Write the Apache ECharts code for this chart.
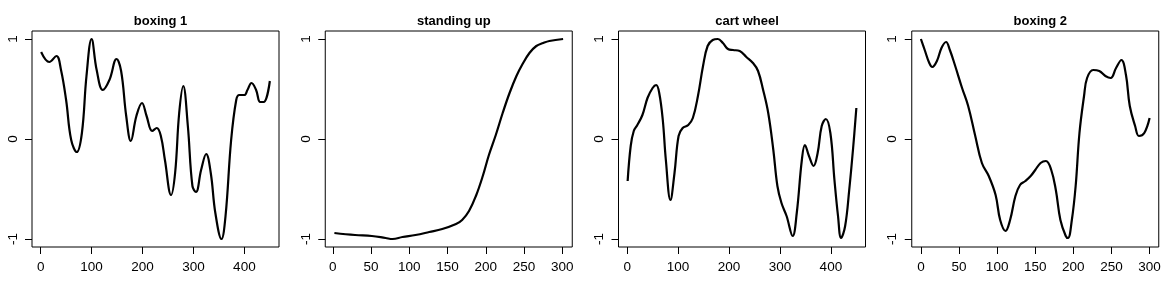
<!DOCTYPE html>
<html><head><meta charset="utf-8">
<script src="https://cdn.jsdelivr.net/npm/echarts@6/dist/echarts.min.js"></script>
<style>html,body{margin:0;padding:0;background:#fff}#c{width:1173px;height:287px}</style>
</head><body><div id="c"></div>
<script>
const titles = ['boxing 1', 'standing up', 'cart wheel', 'boxing 2'];

const boxing1X = [1, 17, 31, 40, 50, 60, 71, 81, 90, 100, 110, 122, 135, 149, 158, 168, 177, 188, 199, 208, 219, 228, 236, 244, 256, 264, 272, 280, 289, 298, 305, 315, 325, 334, 343, 355, 363, 374, 384, 390, 400, 406, 414, 423, 431, 438, 450];
const boxing1Y = [0.87, 0.77, 0.83, 0.69, 0.39, -0.01, -0.13, 0.06, 0.63, 1.0, 0.69, 0.49, 0.59, 0.80, 0.68, 0.23, -0.02, 0.23, 0.36, 0.23, 0.08, 0.11, 0.03, -0.21, -0.56, -0.34, 0.26, 0.53, 0.13, -0.47, -0.53, -0.31, -0.15, -0.34, -0.74, -1.0, -0.77, -0.01, 0.39, 0.44, 0.44, 0.49, 0.56, 0.49, 0.37, 0.37, 0.58];

const standingX = [2, 29, 51, 69, 78, 91, 108, 126, 143, 161, 169, 178, 187, 196, 204, 213, 222, 231, 240, 248, 257, 266, 275, 283, 301];
const standingY = [-0.94, -0.96, -0.97, -0.99, -1.0, -0.98, -0.96, -0.93, -0.90, -0.85, -0.81, -0.72, -0.57, -0.37, -0.16, 0.04, 0.26, 0.46, 0.63, 0.75, 0.86, 0.93, 0.96, 0.98, 1.0];

const cartX = [1, 7, 13, 20, 30, 40, 50, 57, 63, 70, 76, 85, 93, 101, 109, 120, 129, 139, 149, 158, 168, 178, 188, 198, 208, 221, 234, 247, 257, 267, 277, 287, 295, 303, 313, 325, 333, 343, 349, 357, 366, 374, 382, 390, 399, 407, 414, 420, 428, 436, 444, 450];
const cartY = [-0.42, -0.07, 0.08, 0.14, 0.24, 0.41, 0.51, 0.54, 0.46, 0.19, -0.21, -0.61, -0.34, 0.03, 0.11, 0.14, 0.21, 0.43, 0.73, 0.93, 0.99, 1.0, 0.96, 0.90, 0.89, 0.88, 0.82, 0.76, 0.68, 0.49, 0.26, -0.11, -0.47, -0.64, -0.77, -0.97, -0.74, -0.21, -0.06, -0.17, -0.27, -0.14, 0.13, 0.20, 0.06, -0.41, -0.77, -0.99, -0.87, -0.51, -0.07, 0.31];

const boxing2X = [0, 5, 11, 15, 21, 27, 33, 38, 45, 54, 62, 71, 80, 89, 98, 104, 111, 117, 124, 130, 137, 144, 150, 157, 164, 171, 177, 183, 190, 193, 198, 203, 208, 214, 218, 226, 234, 242, 249, 256, 263, 269, 274, 281, 286, 293, 300];
const boxing2Y = [1.0, 0.89, 0.76, 0.72, 0.78, 0.91, 0.97, 0.89, 0.73, 0.51, 0.33, 0.04, -0.24, -0.37, -0.56, -0.81, -0.92, -0.81, -0.57, -0.46, -0.42, -0.37, -0.31, -0.24, -0.22, -0.31, -0.51, -0.81, -0.97, -0.99, -0.81, -0.47, 0.06, 0.43, 0.61, 0.69, 0.68, 0.63, 0.61, 0.71, 0.79, 0.64, 0.33, 0.13, 0.03, 0.06, 0.21];

const xTicksWide = [0, 100, 200, 300, 400];
const xTicksNarrow = [0, 50, 100, 150, 200, 250, 300];
const yTicks = [-1, 0, 1];

const panels = [
  { x: boxing1X, y: boxing1Y, ticks: xTicksWide },
  { x: standingX, y: standingY, ticks: xTicksNarrow },
  { x: cartX, y: cartY, ticks: xTicksWide },
  { x: boxing2X, y: boxing2Y, ticks: xTicksNarrow }
];

const FONT = '"Liberation Sans", Arial, sans-serif';
const grids = [], xAxes = [], yAxes = [], series = [], titleOpts = [];
panels.forEach((p, i) => {
  const left = 32 + 293.25 * i;
  const width = 247;
  grids.push({ left: left, top: 31, width: width, height: 216, show: true, borderColor: '#000', borderWidth: 1, backgroundColor: 'transparent' });
  const x0 = p.x[0], x1 = p.x[p.x.length - 1];
  const pad = 0.04 * (x1 - x0);
  xAxes.push({
    type: 'value', gridIndex: i, min: x0 - pad, max: x1 + pad,
    axisLine: { show: false, onZero: false },
    splitLine: { show: false },
    axisTick: { show: true, customValues: p.ticks, length: 7, inside: false, lineStyle: { color: '#000', width: 1 } },
    axisLabel: { show: true, customValues: p.ticks, color: '#000', fontSize: 13.5, fontFamily: FONT, margin: 13 }
  });
  yAxes.push({
    type: 'value', gridIndex: i, min: -1.08, max: 1.08,
    axisLine: { show: false, onZero: false },
    splitLine: { show: false },
    axisTick: { show: true, customValues: yTicks, length: 7, inside: false, lineStyle: { color: '#000', width: 1 } },
    axisLabel: { show: true, customValues: yTicks, color: '#000', fontSize: 13.5, fontFamily: FONT, margin: 12, rotate: 90 }
  });
  series.push({
    type: 'line', xAxisIndex: i, yAxisIndex: i,
    data: p.x.map((v, k) => [v, p.y[k]]),
    smooth: 0.4, showSymbol: false, symbol: 'none',
    lineStyle: { color: '#000', width: 2.2 },
    animation: false
  });
  titleOpts.push({
    text: titles[i], left: left + width / 2, top: 10, textAlign: 'center',
    textStyle: { fontSize: 13, fontWeight: 'bold', color: '#000', fontFamily: FONT }
  });
});

const chart = echarts.init(document.getElementById('c'), null, { renderer: 'canvas' });
chart.setOption({
  animation: false,
  backgroundColor: '#fff',
  title: titleOpts,
  grid: grids,
  xAxis: xAxes,
  yAxis: yAxes,
  series: series
});
</script>
</body></html>
